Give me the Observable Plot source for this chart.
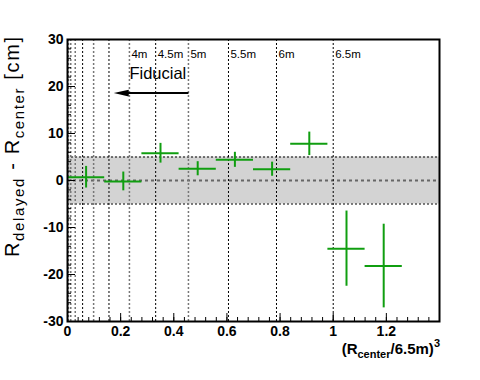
<!DOCTYPE html>
<html><head><meta charset="utf-8">
<script src="https://cdn.jsdelivr.net/npm/d3@7"></script>
<script src="https://cdn.jsdelivr.net/npm/@observablehq/plot@0.6"></script>
<style>body{margin:0;background:#fff;} svg text{white-space:pre;}</style>
</head><body><div id="chart"></div>
<script>
// ---- data ----
const xCenter = [0.07, 0.21, 0.35, 0.49, 0.63, 0.77, 0.91, 1.05, 1.19];
const xLow    = [0.00, 0.14, 0.28, 0.42, 0.56, 0.70, 0.84, 0.98, 1.12];
const xHigh   = [0.14, 0.28, 0.42, 0.56, 0.70, 0.84, 0.98, 1.12, 1.26];
const yValue  = [0.7, -0.2, 5.8, 2.5, 4.4, 2.4, 7.8, -14.5, -18.2];
const yError  = [2.3, 2.0, 2.1, 1.5, 1.6, 1.5, 2.5, 8.0, 8.9];

const grayRadii  = [1, 1.5, 2, 3, 4, 5];
const blackRadii = [2.5, 3.5, 4.5, 5.5, 6, 6.5];
const labelRadii = [4, 4.5, 5, 5.5, 6, 6.5];
const radiusLabels = ["4m", "4.5m", "5m", "5.5m", "6m", "6.5m"];
const refRadius = 6.5;

const bandLimits = [-5, 5];
const zeroLine = [0];

const xDomain = [0, 1.4];
const yDomain = [-30, 30];
const xMajorTicks = [0, 0.2, 0.4, 0.6, 0.8, 1, 1.2];
const xMinorTicks = d3.range(0, 35).map(i => i * 0.04);
const yMajorTicks = [-30, -20, -10, 0, 10, 20, 30];
const yMinorTicks = d3.range(-15, 16).map(i => i * 2);

const labelY = [26.1];
const fiducialText = ["Fiducial"];
const fiducialPos = [{x: (4 / 6.5) ** 3, y: 21.5}];
const arrowSeg = [{x1: (5 / 6.5) ** 3, x2: 0.19, xTip: 0.174, y: 18.6}];

// ---- chart ----
const data = xCenter.map((x, i) => ({x, lo: xLow[i], hi: xHigh[i], y: yValue[i], e: yError[i]}));
const cube = r => (r / refRadius) ** 3;
const green = "#109e10";
const plotW = 480 - 67 - 41, plotH = 380 - 39 - 59;

const headSymbol = {
  draw(ctx) {
    ctx.moveTo(0, 0);
    ctx.lineTo(15, -3.4);
    ctx.lineTo(15, 3.4);
    ctx.closePath();
  }
};

const chart = Plot.plot({
  width: 480, height: 380,
  marginLeft: 67, marginRight: 41, marginTop: 39, marginBottom: 59,
  style: {fontFamily: "'Liberation Sans', Arial, Helvetica, sans-serif", background: "#fff", overflow: "visible", color: "#000"},
  x: {domain: xDomain, axis: null},
  y: {domain: yDomain, axis: null},
  marks: [
    Plot.rect([bandLimits], {x1: () => xDomain[0], x2: () => xDomain[1], y1: d => d[0], y2: d => d[1], fill: "#d3d3d3"}),
    Plot.ruleY(bandLimits, {y: d => d, stroke: "#000", strokeWidth: 1, strokeDasharray: "2,2"}),
    Plot.ruleY(zeroLine, {y: d => d, stroke: "#666", strokeWidth: 2, strokeDasharray: "3,3"}),
    Plot.ruleX(grayRadii, {x: cube, stroke: "#777", strokeWidth: 1.5, strokeDasharray: "2,2"}),
    Plot.ruleX(blackRadii, {x: cube, stroke: "#000", strokeWidth: 1, strokeDasharray: "2,2"}),
    Plot.text(labelRadii, {x: cube, y: () => labelY[0], text: (d, i) => radiusLabels[i], textAnchor: "start", lineAnchor: "bottom", dx: 2, fontSize: 11.5}),
    Plot.text(fiducialPos, {x: "x", y: "y", text: () => fiducialText[0], textAnchor: "start", lineAnchor: "bottom", fontSize: 16.5}),
    Plot.link(arrowSeg, {x1: "x1", x2: "x2", y1: "y", y2: "y", stroke: "#000", strokeWidth: 2}),
    Plot.dot(arrowSeg, {x: "xTip", y: "y", symbol: headSymbol, fill: "#000", stroke: "none"}),
    Plot.ruleY(data, {y: "y", x1: "lo", x2: "hi", stroke: green, strokeWidth: 2}),
    Plot.ruleX(data, {x: "x", y1: d => d.y - d.e, y2: d => d.y + d.e, stroke: green, strokeWidth: 2}),
    Plot.tickY(yMinorTicks, {y: d => d, insetRight: plotW - 4, stroke: "#000"}),
    Plot.tickY(yMajorTicks, {y: d => d, insetRight: plotW - 8, stroke: "#000"}),
    Plot.tickX(xMinorTicks, {x: d => d, insetTop: plotH - 4, stroke: "#000"}),
    Plot.tickX(xMajorTicks, {x: d => d, insetTop: plotH - 8, stroke: "#000"}),
    Plot.frame({stroke: "#000", strokeWidth: 2}),
    Plot.text(xMajorTicks, {x: d => d, frameAnchor: "bottom", lineAnchor: "top", dy: 5, text: d => String(d), fontSize: 14, fontWeight: "bold"}),
    Plot.text(yMajorTicks, {y: d => d, frameAnchor: "left", textAnchor: "end", dx: -4, text: d => String(d), fontSize: 14, fontWeight: "bold"})
  ]
});

const svg = d3.select(chart);
// x title
const xt = svg.append("text")
  .attr("x", 440).attr("y", 354)
  .attr("text-anchor", "end")
  .attr("font-family", "'Liberation Sans', Arial, sans-serif")
  .attr("font-weight", "bold")
  .attr("font-size", 15);
xt.append("tspan").text("(R");
xt.append("tspan").attr("font-size", 11).attr("dy", 4).text("center");
xt.append("tspan").attr("dy", -4).text("/6.5m)");
xt.append("tspan").attr("font-size", 11).attr("dy", -7).text("3");

// y title
const yt = svg.append("text")
  .attr("transform", "translate(19,37) rotate(-90)")
  .attr("text-anchor", "end")
  .attr("font-family", "'Liberation Sans', Arial, sans-serif")
  .attr("font-size", 20)
  .attr("textLength", 220)
  .attr("lengthAdjust", "spacing");
yt.append("tspan").text("R");
yt.append("tspan").attr("font-size", 15).attr("dy", 5).text("delayed");
yt.append("tspan").attr("dy", -5).text(" - R");
yt.append("tspan").attr("font-size", 15).attr("dy", 5).text("center");
yt.append("tspan").attr("dy", -5).text(" [cm]");

document.getElementById("chart").append(chart);
</script>
</body></html>
